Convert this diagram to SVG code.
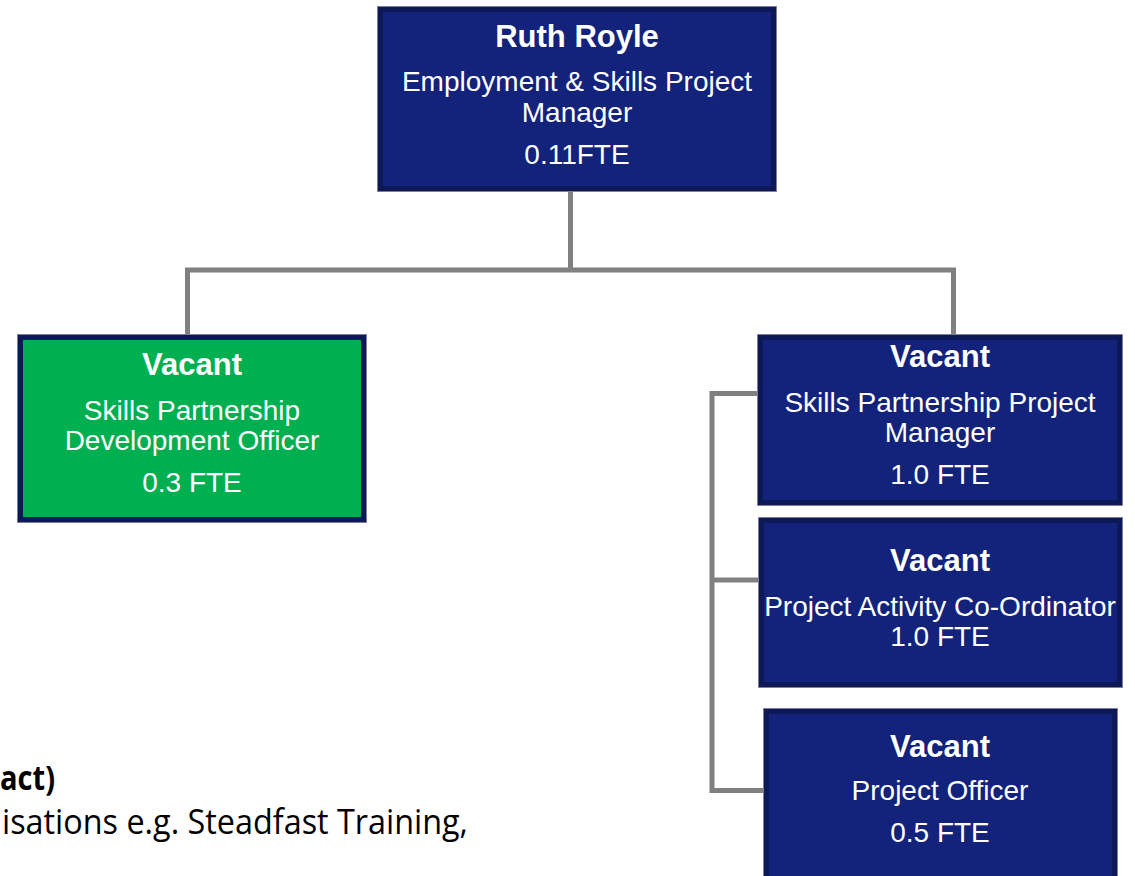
<svg xmlns="http://www.w3.org/2000/svg" width="1135" height="876" viewBox="0 0 1135 876">
  <style>
    .box { stroke: #0d1856; stroke-width: 6; }
    .edge { stroke: #7f7f9a; stroke-width: 1; fill: none; }
    .navy { fill: #13227b; }
    .green { fill: #00af50; }
    .t { font-family: "Liberation Sans", Arial, sans-serif; fill: #ffffff; text-anchor: middle; }
    .name { font-size: 31px; font-weight: bold; }
    .role { font-size: 28px; }
    .link { stroke: #808080; stroke-width: 5; fill: none; stroke-linejoin: miter; }
    .note { font-family: "Open Sans", "Noto Sans", sans-serif; fill: #000000; }
  </style>

  <!-- reporting lines -->
  <g id="connectors">
    <polyline class="link" points="570.5,191 570.5,270"/>
    <polyline class="link" points="187.5,334 187.5,270 953.5,270 953.5,334"/>
    <polyline class="link" points="758,393.5 712,393.5 712,790.5 763,790.5"/>
    <line class="link" x1="712" y1="580" x2="758" y2="580"/>
  </g>

  <g id="ruth-royle">
    <rect class="navy box" x="380" y="9" width="394" height="180"/>
    <rect class="edge" x="377.5" y="6.5" width="399" height="185"/>
    <text class="t name" x="577" y="47">Ruth Royle</text>
    <text class="t role" x="577" y="91">Employment &amp; Skills Project</text>
    <text class="t role" x="577" y="122">Manager</text>
    <text class="t role" x="577" y="164">0.11FTE</text>
  </g>

  <g id="development-officer">
    <rect class="green box" x="20" y="337" width="344" height="183"/>
    <rect class="edge" x="17.5" y="334.5" width="349" height="188"/>
    <text class="t name" x="192" y="375">Vacant</text>
    <text class="t role" x="192" y="420">Skills Partnership</text>
    <text class="t role" x="192" y="450">Development Officer</text>
    <text class="t role" x="192" y="492">0.3 FTE</text>
  </g>

  <g id="project-manager">
    <rect class="navy box" x="760" y="337" width="360" height="166"/>
    <rect class="edge" x="757.5" y="334.5" width="365" height="171"/>
    <text class="t name" x="940" y="367">Vacant</text>
    <text class="t role" x="940" y="412">Skills Partnership Project</text>
    <text class="t role" x="940" y="442">Manager</text>
    <text class="t role" x="940" y="484">1.0 FTE</text>
  </g>

  <g id="activity-coordinator">
    <rect class="navy box" x="761" y="520" width="359" height="165"/>
    <rect class="edge" x="758.5" y="517.5" width="364" height="170"/>
    <text class="t name" x="940" y="571">Vacant</text>
    <text class="t role" x="940" y="616">Project Activity Co-Ordinator</text>
    <text class="t role" x="940" y="646">1.0 FTE</text>
  </g>

  <g id="project-officer">
    <rect class="navy box" x="766" y="711" width="349" height="180"/>
    <rect class="edge" x="763.5" y="708.5" width="354" height="185"/>
    <text class="t name" x="940" y="757">Vacant</text>
    <text class="t role" x="940" y="800">Project Officer</text>
    <text class="t role" x="940" y="842">0.5 FTE</text>
  </g>

  <!-- body text running beside the chart -->
  <g id="notes">
    <text class="note" x="0" y="790" font-size="34" font-weight="bold" textLength="55" lengthAdjust="spacingAndGlyphs">act)</text>
    <text class="note" x="2" y="834" font-size="34" textLength="466" lengthAdjust="spacingAndGlyphs">isations e.g. Steadfast Training,</text>
  </g>
</svg>
